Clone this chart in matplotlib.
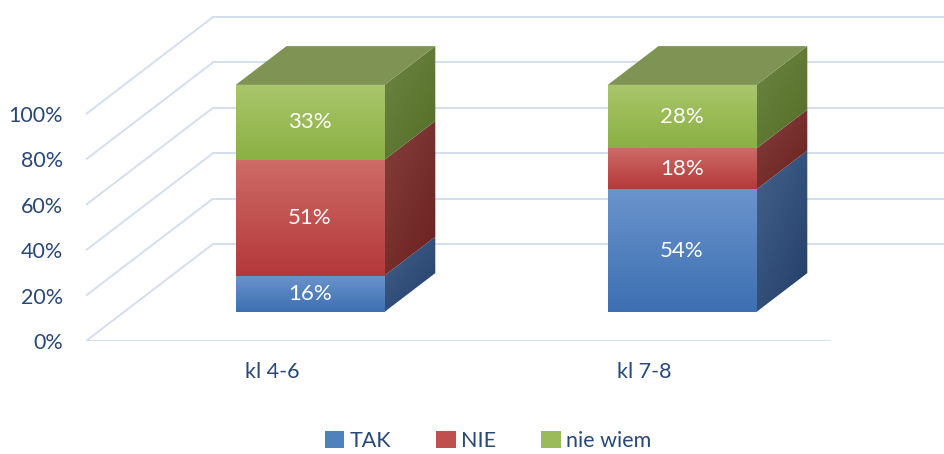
import numpy as np
import matplotlib
matplotlib.use('Agg')
import matplotlib.pyplot as plt
from matplotlib.patches import Polygon, Patch
from matplotlib.colors import to_rgb

# ---- data ----
categories = ['kl 4-6', 'kl 7-8']
series_names = ['TAK', 'NIE', 'nie wiem']
tak = [16, 54]
nie = [51, 18]
nie_wiem = [33, 28]
y_ticks = [0, 20, 40, 60, 80, 100]
y_tick_labels = ['0%', '20%', '40%', '60%', '80%', '100%']

# ---- styles ----
series_vals = [tak, nie, nie_wiem]
front_cols = [('#6A94CC', '#3D6FB2'), ('#CD6B66', '#B5393A'), ('#A9C66B', '#8BB043')]
side_cols = [('#44628D', '#223E68'), ('#843F3B', '#6A2020'), ('#6C8642', '#546E28')]
top_cols = ['#5A7FB5', '#B85450', '#7E9354']
legend_cols = ['#4F81BD', '#C0504D', '#9BBB59']
text_col = '#284878'
grid_col = '#D3DFF0'

W, H = 944, 454
plt.rcParams['font.family'] = ['Lato', 'DejaVu Sans']
fig = plt.figure(figsize=(W / 100, H / 100), dpi=100)

px_per_cat = 372.0
px_per_pct = 2.27
x0_px, y0_px = 86, 341
ax = fig.add_axes([x0_px / W, (H - y0_px) / H, (W - x0_px) / W, y0_px / H])
ax.set_xlim(-0.5, -0.5 + (W - x0_px) / px_per_cat)
ax.set_ylim(0, y0_px / px_per_pct)
ax.autoscale(False)
for s in ax.spines.values():
    s.set_visible(False)
ax.patch.set_alpha(0)

DX = 127 / px_per_cat
DV = 97 / px_per_pct


def P(c, v, t):
    return (c + DX * t, v + DV * t)


# gridlines
for v in y_ticks:
    ax.plot([-0.5, -0.5 + DX], [v, v + DV], color=grid_col, lw=1.4, zorder=1,
            solid_capstyle='butt')
    ax.plot([-0.5 + DX, 2.5], [v + DV, v + DV], color=grid_col, lw=1.4, zorder=1)
ax.plot([-0.5, 1.5], [0, 0], color=grid_col, lw=1.4, zorder=1)


def grad_fill(verts, c1, c2, mode='v', z=3):
    verts = np.array(verts)
    xmin, ymin = verts.min(0)
    xmax, ymax = verts.max(0)
    n = 64
    a = np.array(to_rgb(c1))
    b = np.array(to_rgb(c2))
    r = np.linspace(0, 1, n)[:, None]
    c = np.linspace(0, 1, n)[None, :]
    if mode == 'v':
        s = r * np.ones((1, n))
    else:
        s = 0.55 * r + 0.45 * c
    img = a[None, None, :] * (1 - s[..., None]) + b[None, None, :] * s[..., None]
    poly = Polygon(verts, closed=True, facecolor='none', edgecolor='none', zorder=z)
    ax.add_patch(poly)
    im = ax.imshow(img, extent=(xmin, xmax, ymin, ymax), aspect='auto',
                   interpolation='bilinear', zorder=z)
    im.set_clip_path(poly)


w = 0.4
t0, t1 = 0.3, 0.7
for i in range(len(categories)):
    bottom = 0
    for k, vals in enumerate(series_vals):
        v0, v1 = bottom, bottom + vals[i]
        xl, xr = i - w / 2, i + w / 2
        front = [P(xl, v0, t0), P(xr, v0, t0), P(xr, v1, t0), P(xl, v1, t0)]
        side = [P(xr, v0, t0), P(xr, v0, t1), P(xr, v1, t1), P(xr, v1, t0)]
        grad_fill(front, *front_cols[k], mode='v')
        grad_fill(side, *side_cols[k], mode='d')
        if k == len(series_vals) - 1:
            top = [P(xl, v1, t0), P(xr, v1, t0), P(xr, v1, t1), P(xl, v1, t1)]
            ax.add_patch(Polygon(top, closed=True, facecolor=top_cols[k],
                                 edgecolor='none', zorder=3))
        tx, ty = P(i, (v0 + v1) / 2, t0)
        ax.text(tx, ty, f'{vals[i]}%', color='white', fontsize=16,
                ha='center', va='center', zorder=5)
        bottom = v1

ax.set_yticks(y_ticks, y_tick_labels)
ax.set_xticks(range(len(categories)), categories)
ax.tick_params(axis='y', length=0, pad=16.5, labelsize=15.5, labelcolor=text_col)
ax.tick_params(axis='x', length=0, pad=15, labelsize=15.5, labelcolor=text_col)

handles = [Patch(facecolor=c, edgecolor='none') for c in legend_cols]
fig.legend(handles, series_names, loc='center', bbox_to_anchor=(488 / W, 13 / H),
           ncol=3, frameon=False, handlelength=0.9, handleheight=0.8,
           handletextpad=0.25, columnspacing=2.1, fontsize=15.5,
           labelcolor=text_col, borderpad=0, borderaxespad=0)

fig.savefig('out.png', dpi=100)
